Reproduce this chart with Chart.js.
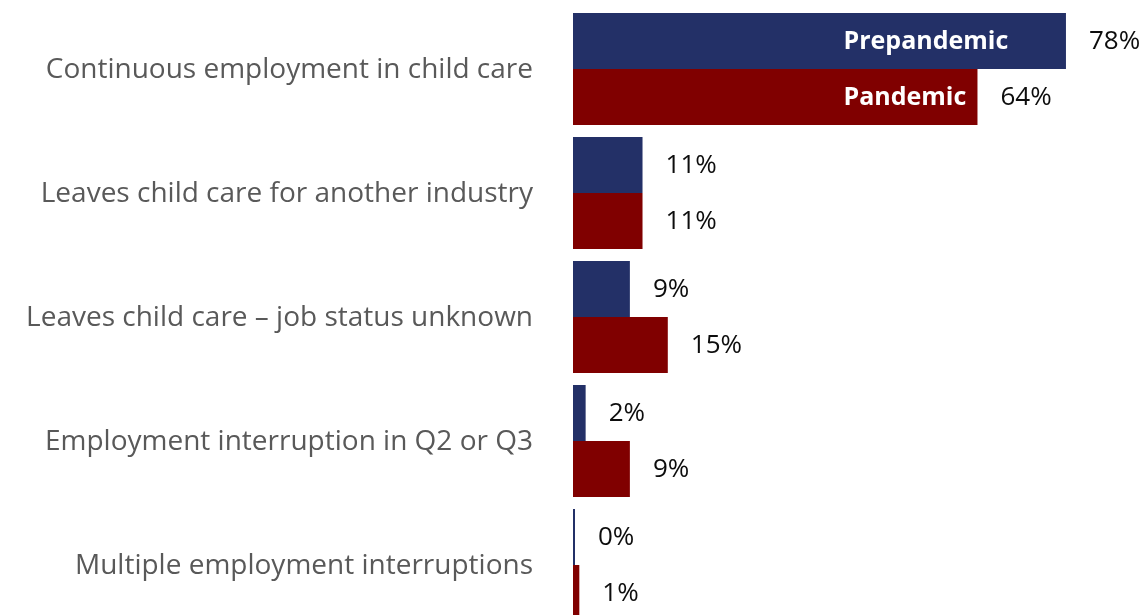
<!DOCTYPE html>
<html>
<head>
<meta charset="utf-8">
<script src="https://cdn.jsdelivr.net/npm/chart.js@4/dist/chart.umd.min.js"></script>
<style>
  html, body { margin: 0; padding: 0; background: #fff; overflow: hidden; }
  #chart { display: block; }
</style>
</head>
<body>
<canvas id="chart" width="1144" height="640"></canvas>
<script>
const categories = [
  'Continuous employment in child care',
  'Leaves child care for another industry',
  'Leaves child care \u2013 job status unknown',
  'Employment interruption in Q2 or Q3',
  'Multiple employment interruptions'
];
const seriesNames = ['Prepandemic', 'Pandemic'];
const prepandemic = [78, 11, 9, 2, 0];
const pandemic = [64, 11, 15, 9, 1];

const NAVY = '#233067';
const MAROON = '#800000';
const FONT = '"Open Sans", sans-serif';

// category names on the left, value labels after each bar,
// series names written inside the first pair of bars
const barLabels = {
  id: 'barLabels',
  afterDatasetsDraw(chart) {
    const ctx = chart.ctx;
    const x = chart.scales.x;
    const y = chart.scales.y;
    ctx.save();
    ctx.textBaseline = 'middle';

    ctx.font = '28px ' + FONT;
    ctx.fillStyle = '#595959';
    ctx.textAlign = 'right';
    categories.forEach((name, i) => {
      ctx.fillText(name, chart.chartArea.left - 40, y.getPixelForValue(i) + 1);
    });

    chart.data.datasets.forEach((ds, i) => {
      const meta = chart.getDatasetMeta(i);
      meta.data.forEach((bar, j) => {
        ctx.font = '26px ' + FONT;
        ctx.fillStyle = '#0d0d0d';
        ctx.textAlign = 'left';
        ctx.fillText(ds.data[j] + '%', bar.x + 23, bar.y + 1);
        if (j === 0) {
          ctx.font = 'bold 25px ' + FONT;
          ctx.fillStyle = '#fff';
          ctx.fillText(ds.label, x.getPixelForValue(42.8), bar.y + 1);
        }
      });
    });
    ctx.restore();
  }
};

new Chart(document.getElementById('chart'), {
  type: 'bar',
  data: {
    labels: categories,
    datasets: [
      { label: seriesNames[0], data: prepandemic, backgroundColor: NAVY },
      { label: seriesNames[1], data: pandemic, backgroundColor: MAROON }
    ]
  },
  options: {
    indexAxis: 'y',
    responsive: false,
    animation: false,
    categoryPercentage: 0.903,
    barPercentage: 1,
    minBarLength: 2,
    layout: { padding: { top: 7, bottom: 13, left: 573, right: 65.4 } },
    plugins: { legend: { display: false }, tooltip: { enabled: false } },
    scales: {
      x: { display: false, min: 0, max: 80 },
      y: { display: false }
    }
  },
  plugins: [barLabels]
});
</script>
</body>
</html>
